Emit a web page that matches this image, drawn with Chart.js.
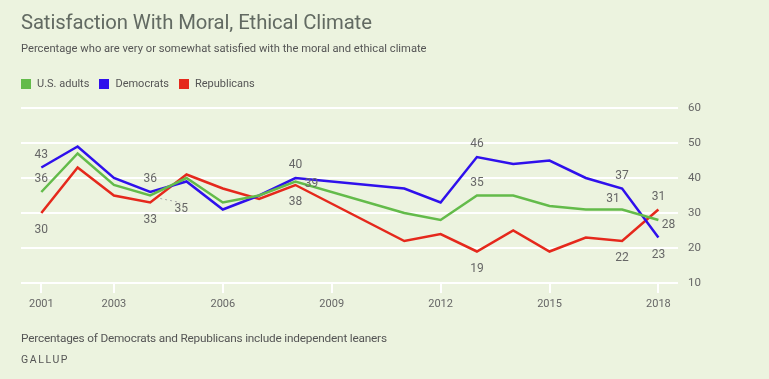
<!DOCTYPE html>
<html>
<head>
<meta charset="utf-8">
<script src="https://cdn.jsdelivr.net/npm/chart.js@4"></script>
<style>
  html, body { margin: 0; padding: 0; background: #ecf3df; }
  body { width: 769px; height: 379px; position: relative; overflow: hidden; font-family: Roboto, "Open Sans", sans-serif; color: #666; }
  #wrap { position: absolute; left: 0; top: 0; width: 769px; height: 379px; }
  canvas { display: block; }
  .t { position: absolute; white-space: nowrap; }
  #title { left: 21px; top: 10px; font-size: 20.3px; color: #626a62; letter-spacing: -0.1px; }
  #sub { left: 21px; top: 42px; font-size: 11.2px; color: #555; }
  #legend { left: 21px; top: 77px; font-size: 11px; color: #555; display: flex; }
  #legend span.item { display: inline-flex; align-items: center; margin-right: 10px; }
  #legend span.sw { display: inline-block; width: 10px; height: 10px; margin-right: 6px; }
  #foot { left: 21px; top: 331px; font-size: 11.8px; color: #555; letter-spacing: -0.2px; }
  #src { left: 21px; top: 353px; font-size: 10.5px; color: #555; letter-spacing: 1.6px; }
</style>
</head>
<body>
<div id="wrap"><canvas id="c" width="769" height="379"></canvas></div>
<div class="t" id="title">Satisfaction With Moral, Ethical Climate</div>
<div class="t" id="sub">Percentage who are very or somewhat satisfied with the moral and ethical climate</div>
<div class="t" id="legend"></div>
<div class="t" id="foot">Percentages of Democrats and Republicans include independent leaners</div>
<div class="t" id="src">GALLUP</div>
<script>
// ---- Data ----
const years = [2001, 2002, 2003, 2004, 2005, 2006, 2007, 2008, 2011, 2012, 2013, 2014, 2015, 2016, 2017, 2018];
const usAdults    = [36, 47, 38, 35, 40, 33, 35, 39, 30, 28, 35, 35, 32, 31, 31, 28];
const democrats   = [43, 49, 40, 36, 39, 31, 35, 40, 37, 33, 46, 44, 45, 40, 37, 23];
const republicans = [30, 43, 35, 33, 41, 37, 34, 38, 22, 24, 19, 25, 19, 23, 22, 31];
const seriesNames = ["U.S. adults", "Democrats", "Republicans"];
const xTickYears = [2001, 2003, 2006, 2009, 2012, 2015, 2018];
const yTickValues = [10, 20, 30, 40, 50, 60];
// labelled points: [series index, year]
const labelledPoints = [
  [1, 2001], [0, 2001], [2, 2001],
  [1, 2004], [0, 2004], [2, 2004],
  [1, 2008], [0, 2008], [2, 2008],
  [1, 2013], [0, 2013], [2, 2013],
  [1, 2017], [0, 2017], [2, 2017],
  [2, 2018], [0, 2018], [1, 2018]
];

// ---- Styles ----
const colors = ["#63bb4a", "#2f10ec", "#e5281c"];
const labelOffsets = {
  "1-2001": [0, -13], "0-2001": [0, -13], "2-2001": [0, 17],
  "1-2004": [0, -13], "0-2004": [31, 13, true], "2-2004": [0, 17.5],
  "1-2008": [0, -13], "0-2008": [16, 2.5], "2-2008": [0, 17],
  "1-2013": [0, -13], "0-2013": [0, -12.5], "2-2013": [0, 17.5],
  "1-2017": [0, -12.5], "0-2017": [-9, -11], "2-2017": [0, 16.5],
  "2-2018": [0, -12.5], "0-2018": [10, 5], "1-2018": [0, 17.5]
};

const seriesValues = [usAdults, democrats, republicans];

// HTML legend
const legend = document.getElementById('legend');
seriesNames.forEach((n, i) => {
  const it = document.createElement('span');
  it.className = 'item';
  it.innerHTML = '<span class="sw" style="background:' + colors[i] + '"></span>' + n;
  legend.appendChild(it);
});

const labelPlugin = {
  id: 'pointLabels',
  afterDatasetsDraw(chart) {
    const ctx = chart.ctx;
    ctx.save();
    ctx.font = '12px Roboto, "Open Sans", sans-serif';
    ctx.fillStyle = '#666';
    ctx.textAlign = 'center';
    ctx.textBaseline = 'middle';
    labelledPoints.forEach(([s, yr]) => {
      const meta = chart.getDatasetMeta(s);
      const idx = years.indexOf(yr);
      const pt = meta.data[idx];
      const off = labelOffsets[s + '-' + yr] || [0, -13];
      const lx = pt.x + off[0], ly = pt.y + off[1];
      if (off[2]) {
        ctx.save();
        ctx.strokeStyle = '#a8a8a8';
        ctx.lineWidth = 1;
        ctx.setLineDash([2, 3]);
        ctx.beginPath();
        ctx.moveTo(pt.x + 10, pt.y + 3);
        ctx.lineTo(lx - 1, ly - 6);
        ctx.stroke();
        ctx.restore();
      }
      ctx.fillText(String(seriesValues[s][idx]), lx, ly);
    });
    ctx.restore();
  }
};

new Chart(document.getElementById('c'), {
  type: 'line',
  data: {
    datasets: seriesNames.map((n, i) => ({
      label: n,
      data: years.map((y, k) => ({ x: y, y: seriesValues[i][k] })),
      borderColor: colors[i],
      backgroundColor: colors[i],
      borderWidth: 2.5,
      pointRadius: 0,
      pointHoverRadius: 0,
      tension: 0,
      fill: false
    }))
  },
  options: {
    responsive: false,
    animation: false,
    events: [],
    layout: { padding: { left: 21, top: 108, right: 31, bottom: 56 } },
    plugins: { legend: { display: false }, tooltip: { enabled: false }, title: { display: false } },
    scales: {
      x: {
        type: 'linear',
        min: 2000.44,
        max: 2018.54,
        afterBuildTicks(scale) { scale.ticks = xTickYears.map(v => ({ value: v })); },
        afterFit(scale) { scale.height = 40; },
        grid: { display: true, drawOnChartArea: false, drawTicks: true, tickLength: 10, color: '#ffffff', lineWidth: 2 },
        border: { display: false },
        ticks: {
          autoSkip: false, maxRotation: 0, padding: 5,
          color: '#666', font: { size: 11, family: 'Roboto, "Open Sans", sans-serif' },
          callback: v => String(v)
        }
      },
      y: {
        position: 'right',
        min: 10,
        max: 60,
        afterBuildTicks(scale) { scale.ticks = yTickValues.map(v => ({ value: v })); },
        afterFit(scale) { scale.width = 60; },
        grid: { color: '#ffffff', lineWidth: 2, drawTicks: false },
        border: { display: false },
        ticks: {
          padding: 10, crossAlign: 'near',
          color: '#666', font: { size: 11.5, family: 'Roboto, "Open Sans", sans-serif' }
        }
      }
    }
  },
  plugins: [labelPlugin]
});
</script>
</body>
</html>
